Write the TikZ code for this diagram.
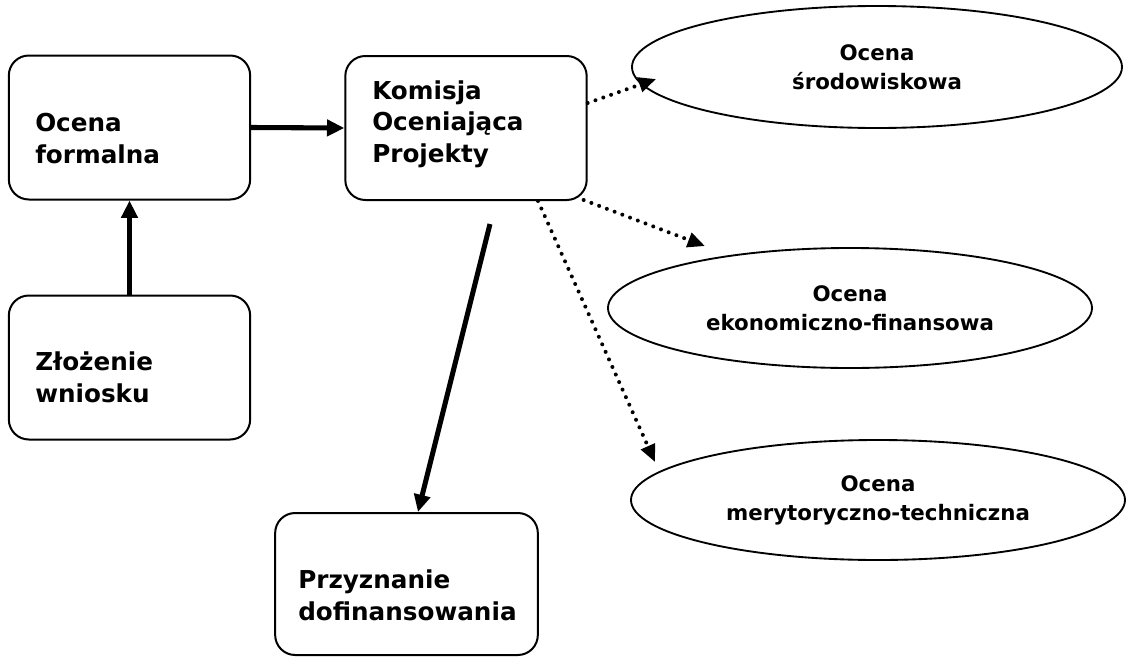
\documentclass[tikz,border=0pt]{standalone}
\usepackage{fontspec}
\setmainfont{DejaVu Sans}
\usetikzlibrary{arrows.meta, shapes.geometric, positioning}

\begin{document}
\begin{tikzpicture}[x=0.75pt, y=-0.75pt,
    box/.style={draw, line width=1.5pt, rounded corners=15pt, minimum width=181pt, minimum height=108pt},
    oval/.style={draw, ellipse, line width=1.4pt, align=center, inner sep=0pt, font=\fontsize{16}{21.75}\selectfont\bfseries},
    txt/.style={align=left, inner sep=0pt, anchor=base west, font=\fontsize{18.5}{23.6}\selectfont\bfseries},
    heavy/.style={line width=3.8pt, -{Triangle[length=13pt, width=12pt]}},
    dots/.style={line width=3pt, line cap=round, dash pattern=on 0pt off 6.2pt, -{Triangle[length=13pt, width=11pt]}}]

    \useasboundingbox (0,0) rectangle (1136,657);

    % boxes
    \node [box] (formalna) at (129.5,127.5) {};
    \node [box] (komisja) at (466,128) {};
    \node [box] (zlozenie) at (129.5,367.5) {};
    \node [box, minimum width=197pt, minimum height=106.5pt] (przyznanie) at (406.5,584) {};

    % base = last line
    \node [txt] (formalna-t) at (35,163) {Ocena\\formalna};
    \node [txt] (komisja-t) at (372,162) {Komisja\\Oceniająca\\Projekty};
    \node [txt] (zlozenie-t) at (35,402) {Złożenie\\wniosku};
    \node [txt] (przyznanie-t) at (298,620) {Przyznanie\\dofinansowania};

    % ovals
    \node [oval, minimum width=367.5pt, minimum height=91.5pt] (srodowisko) at (877,67) {Ocena\\środowiskowa};
    \node [oval, minimum width=363pt, minimum height=90pt] (ekonom) at (850,308) {Ocena\\ekonomiczno-finansowa};
    \node [oval, minimum width=370.5pt, minimum height=90pt] (merytor) at (878,500) {Ocena\\merytoryczno-techniczna};

    \coordinate (split) at (490,224);

    \draw [heavy] (formalna.east) -- (komisja.west);
    \draw [heavy] (zlozenie) -- (formalna);
    \draw [heavy] (split) -- (418,0 |- przyznanie.north);

    \draw [dots] ([shift={(0,-25)}]komisja.east) -- ([shift={(25,12)}]srodowisko.west);
    \draw [dots] ([shift={(-4,-1)}]komisja.south east) -- ([shift={(-145,-1)}]ekonom.north);
    \draw [dots] ([shift={(72,0)}]komisja.south) -- ([shift={(-223,23)}]merytor.north);
\end{tikzpicture}
\end{document}
